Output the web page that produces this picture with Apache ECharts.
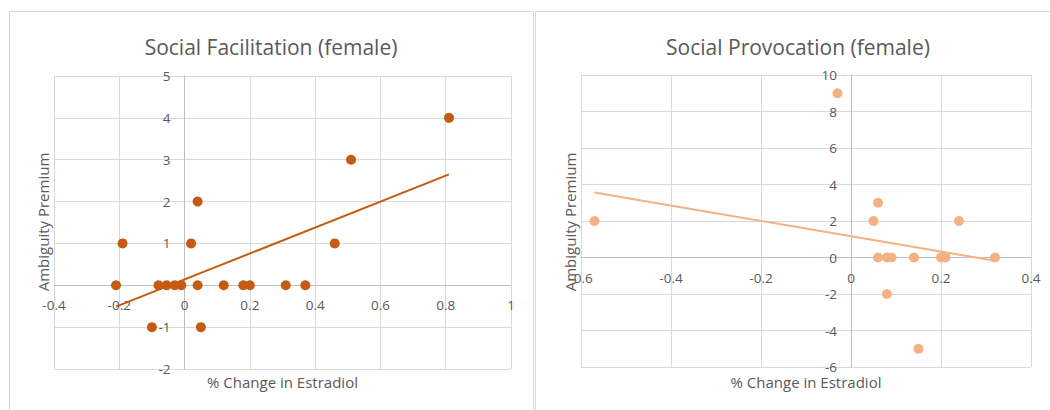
<!DOCTYPE html>
<html><head><meta charset="utf-8">
<script src="https://cdn.jsdelivr.net/npm/echarts@6/dist/echarts.min.js"></script>
<style>html,body{margin:0;padding:0;background:#fff;}#c{width:1050px;height:410px;}</style>
</head><body><div id="c"></div>
<script>
// ---- Data: Social Facilitation (female)
const facTitle = 'Social Facilitation (female)';
const facX = [-0.21, -0.19, -0.10, -0.08, -0.055, -0.03, -0.01, 0.02, 0.04, 0.04, 0.05, 0.12, 0.18, 0.20, 0.31, 0.37, 0.46, 0.51, 0.81];
const facY = [0, 1, -1, 0, 0, 0, 0, 1, 2, 0, -1, 0, 0, 0, 0, 0, 1, 3, 4];
const facTrendX = [-0.21, 0.81];
const facTrendY = [-0.51, 2.65];
const facXAxis = [-0.4, 1, 0.2];   // min, max, interval
const facYAxis = [-2, 5, 1];

// ---- Data: Social Provocation (female)
const provTitle = 'Social Provocation (female)';
const provX = [-0.57, -0.03, 0.05, 0.06, 0.06, 0.08, 0.08, 0.09, 0.14, 0.15, 0.20, 0.21, 0.24, 0.32];
const provY = [2, 9, 2, 3, 0, 0, -2, 0, 0, -5, 0, 0, 2, 0];
const provTrendX = [-0.57, 0.32];
const provTrendY = [3.56, -0.18];
const provXAxis = [-0.6, 0.4, 0.2];
const provYAxis = [-6, 10, 2];

const xTitle = '% Change in Estradiol';
const yTitle = 'Ambiguity Premium';

const FONT = 'Open Sans';
const TXT = '#595959';
const GRID = '#d9d9d9';
const AXIS = '#bfbfbf';
const W = 1050, H = 410;

const grids = [
  { left: 54, right: 539, top: 76, bottom: 41 },
  { left: 581, right: 19, top: 75, bottom: 43 }
];

const zip = (a, b) => a.map((v, i) => [v, b[i]]);
// distance from the grid's left/bottom edge to the value 0, so the axes cross at the origin
function zeroShift(r, len) { return len * (0 - r[0]) / (r[1] - r[0]); }

function xAx(idx, r, yr) {
  const g = grids[idx];
  return {
    type: 'value', gridIndex: idx, min: r[0], max: r[1], interval: r[2],
    position: 'bottom',
    offset: -zeroShift(yr, H - g.top - g.bottom),
    axisLine: { show: true, onZero: false, lineStyle: { color: AXIS, width: 1 } },
    axisTick: { show: false },
    axisLabel: { color: TXT, fontFamily: FONT, fontSize: 13.5, margin: 13 },
    splitLine: { show: true, lineStyle: { color: GRID, width: 1 } }
  };
}
function yAx(idx, r, xr) {
  const g = grids[idx];
  return {
    type: 'value', gridIndex: idx, min: r[0], max: r[1], interval: r[2],
    position: 'left',
    offset: -zeroShift(xr, W - g.left - g.right),
    axisLine: { show: true, onZero: false, lineStyle: { color: AXIS, width: 1 } },
    axisTick: { show: false },
    axisLabel: { color: TXT, fontFamily: FONT, fontSize: 13.5, margin: 14 },
    splitLine: { show: true, lineStyle: { color: GRID, width: 1 } }
  };
}

const tFont = '15px "Open Sans"';
const chart = echarts.init(document.getElementById('c'), null, { renderer: 'svg' });
chart.setOption({
  animation: false,
  backgroundColor: '#fff',
  title: [
    { text: facTitle, left: 266, top: 31, textAlign: 'center',
      textStyle: { color: TXT, fontFamily: FONT, fontSize: 21, fontWeight: 'normal' } },
    { text: provTitle, left: 793, top: 31, textAlign: 'center',
      textStyle: { color: TXT, fontFamily: FONT, fontSize: 21, fontWeight: 'normal' } }
  ],
  graphic: [
    { type: 'rect', shape: { x: 9.5, y: 11.5, width: 524, height: 420 }, style: { fill: 'none', stroke: GRID, lineWidth: 1 }, z: -1 },
    { type: 'rect', shape: { x: 535.5, y: 11.5, width: 540, height: 420 }, style: { fill: 'none', stroke: GRID, lineWidth: 1 }, z: -1 },
    { type: 'text', x: 43, y: 222, rotation: Math.PI / 2,
      style: { text: yTitle, fill: TXT, font: tFont, textAlign: 'center', textVerticalAlign: 'middle' } },
    { type: 'text', x: 570, y: 222, rotation: Math.PI / 2,
      style: { text: yTitle, fill: TXT, font: tFont, textAlign: 'center', textVerticalAlign: 'middle' } },
    { type: 'text', x: 282.5, y: 382,
      style: { text: xTitle, fill: TXT, font: tFont, textAlign: 'center', textVerticalAlign: 'middle' } },
    { type: 'text', x: 806, y: 382,
      style: { text: xTitle, fill: TXT, font: tFont, textAlign: 'center', textVerticalAlign: 'middle' } }
  ],
  grid: grids,
  xAxis: [xAx(0, facXAxis, facYAxis), xAx(1, provXAxis, provYAxis)],
  yAxis: [yAx(0, facYAxis, facXAxis), yAx(1, provYAxis, provXAxis)],
  series: [
    { type: 'scatter', xAxisIndex: 0, yAxisIndex: 0, data: zip(facX, facY),
      symbolSize: 10, itemStyle: { color: '#C55A11', opacity: 1 }, z: 2 },
    { type: 'line', xAxisIndex: 0, yAxisIndex: 0, data: zip(facTrendX, facTrendY),
      showSymbol: false, lineStyle: { color: '#C55A11', width: 2 }, z: 3, silent: true },
    { type: 'scatter', xAxisIndex: 1, yAxisIndex: 1, data: zip(provX, provY),
      symbolSize: 10, itemStyle: { color: '#F4B183', opacity: 1 }, z: 2 },
    { type: 'line', xAxisIndex: 1, yAxisIndex: 1, data: zip(provTrendX, provTrendY),
      showSymbol: false, lineStyle: { color: '#F4B183', width: 2 }, z: 3, silent: true }
  ]
});
</script></body></html>
